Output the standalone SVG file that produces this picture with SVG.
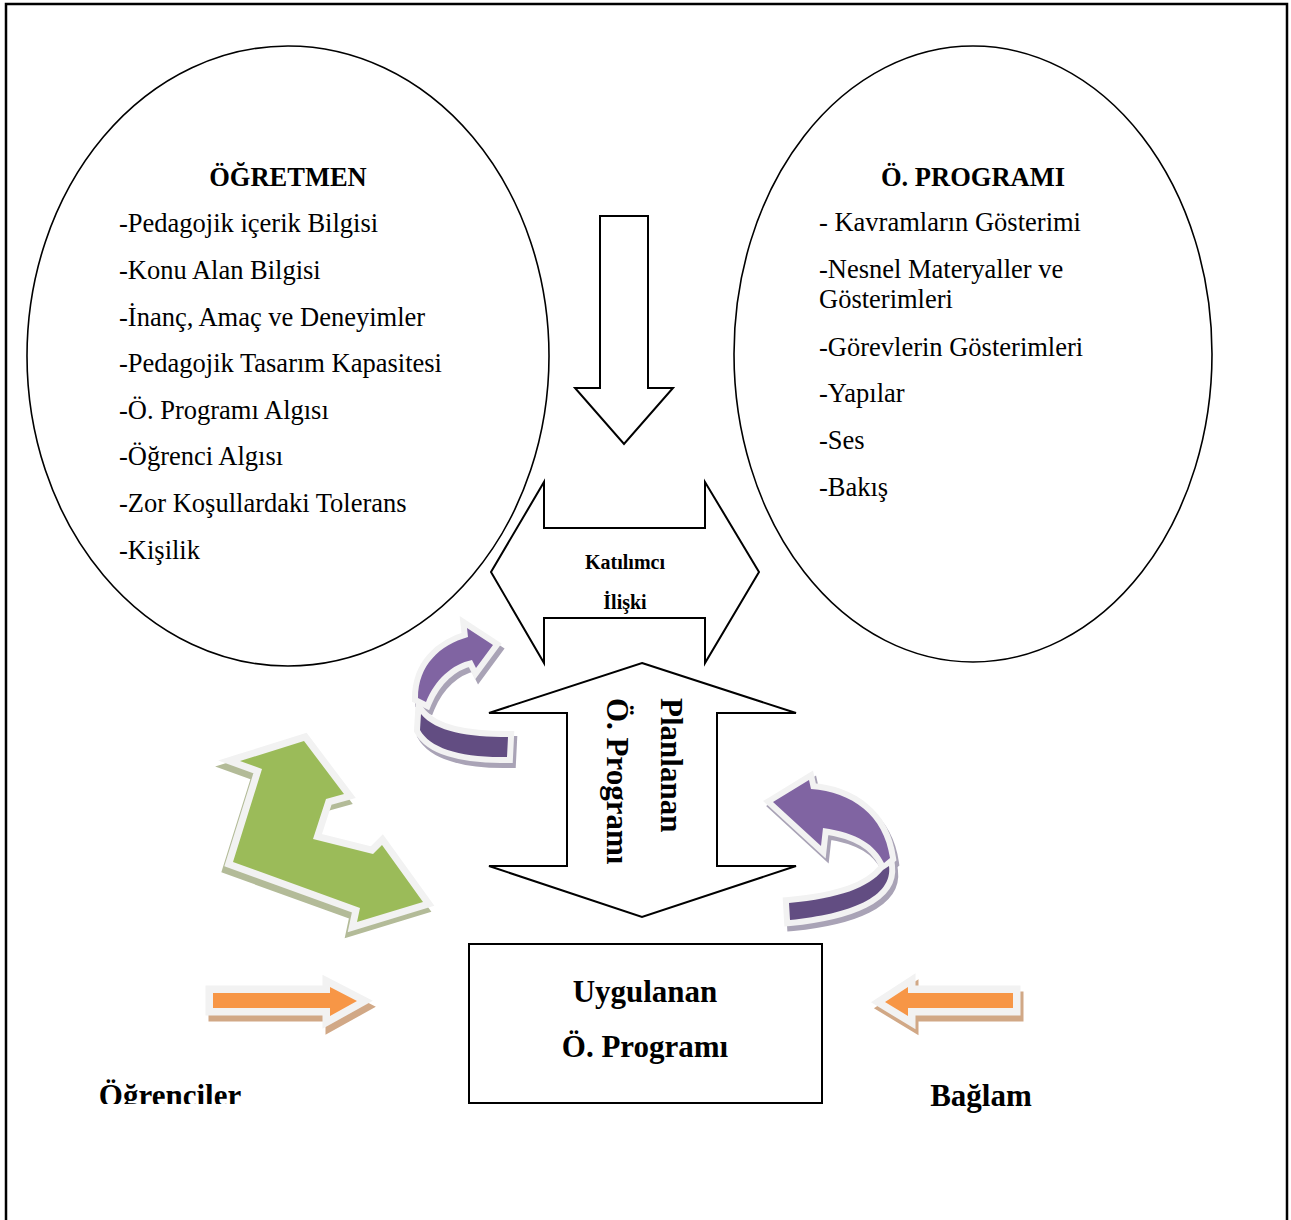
<svg xmlns="http://www.w3.org/2000/svg" xmlns:xlink="http://www.w3.org/1999/xlink" width="1291" height="1220" viewBox="0 0 1291 1220">
<style>
.t{font-family:"Liberation Serif","Times New Roman",serif;font-size:26.5px;fill:#000}
.b{font-weight:bold}
.big{font-family:"Liberation Serif","Times New Roman",serif;font-size:31px;font-weight:bold;fill:#000}
.mid{font-family:"Liberation Serif","Times New Roman",serif;font-size:20px;font-weight:bold;fill:#000}
.ln{fill:#fff;stroke:#000;stroke-width:2;stroke-linejoin:miter}
.el{fill:#fff;stroke:#000;stroke-width:1.6}
.wh{fill:#f2f2f2;stroke:#f2f2f2;stroke-width:14;stroke-linejoin:miter;stroke-miterlimit:10}
</style>
<defs>
<polygon id="greenShape" points="240,761 304,741 344,794 326,799 313,839 373,854 382,845 423,902 357,922 360,908 233,862 262,769"/>
<polygon id="orR" points="213,993 330,993 330,987 357,1001 330,1016 330,1008 213,1008"/>
<polygon id="orL" points="885,1002 908,987 908,993 1013,993 1013,1008 908,1008 908,1016"/>
<path id="ulTop" d="M418,698 C418,665 440,645 468,637 L467,628 L493,645 L476,668 L472,660 C452,664 435,680 426,702 Z"/>
<path id="ulBot" d="M421,714 C436,732 468,737 508,737 L507,757 C460,758 430,748 420,730 Z"/>
<path id="rTop" d="M773,802 L809,780 L811,789 C852,792 884,815 890,858 L884,863 C875,845 858,833 823,828 L821,846 Z"/>
<path id="rBot" d="M889,866 C893,897 850,914 790,920 L789,903 C840,898 868,888 883,870 Z"/>
<clipPath id="clipOgr"><rect x="0" y="1000" width="400" height="104"/></clipPath>
</defs>
<rect x="0" y="0" width="1291" height="1220" fill="#fff"/>
<g id="frame"><path d="M6,1222 L6,4 L1287,4 L1287,1222" fill="none" stroke="#000" stroke-width="2.5"/></g>

<g id="ogretmen">
<ellipse class="el" cx="288" cy="356" rx="261" ry="310"/>
<text class="t b" x="288" y="186" text-anchor="middle">ÖĞRETMEN</text>
<text class="t" x="119" y="232">-Pedagojik içerik Bilgisi</text>
<text class="t" x="119" y="279">-Konu Alan Bilgisi</text>
<text class="t" x="119" y="326">-İnanç, Amaç ve Deneyimler</text>
<text class="t" x="119" y="372">-Pedagojik Tasarım Kapasitesi</text>
<text class="t" x="119" y="419">-Ö. Programı Algısı</text>
<text class="t" x="119" y="465">-Öğrenci Algısı</text>
<text class="t" x="119" y="512">-Zor Koşullardaki Tolerans</text>
<text class="t" x="119" y="559">-Kişilik</text>
</g>

<g id="oprogrami">
<ellipse class="el" cx="973" cy="354" rx="239" ry="308"/>
<text class="t b" x="973" y="186" text-anchor="middle">Ö. PROGRAMI</text>
<text class="t" x="819" y="231">- Kavramların Gösterimi</text>
<text class="t" x="819" y="278">-Nesnel Materyaller ve</text>
<text class="t" x="819" y="308">Gösterimleri</text>
<text class="t" x="819" y="356">-Görevlerin Gösterimleri</text>
<text class="t" x="819" y="402">-Yapılar</text>
<text class="t" x="819" y="449">-Ses</text>
<text class="t" x="819" y="496">-Bakış</text>
</g>

<g id="connectors">
<polygon id="downArrow" class="ln" points="600,216 648,216 648,388 673,388 624,444 575,388 600,388"/>
<g id="katilimci">
<polygon class="ln" points="491,572 544,482 544,528 705,528 705,482 759,572 705,663 705,618 544,618 544,663"/>
<text class="mid" x="625" y="569" text-anchor="middle">Katılımcı</text>
<text class="mid" x="625" y="609" text-anchor="middle">İlişki</text>
</g>
<g id="planlanan">
<polygon class="ln" points="642,663 796,713 717,713 717,866 796,866 642,917 489,866 567,866 567,713 489,713"/>
<text class="big" transform="translate(661,698) rotate(90)">Planlanan</text>
<text class="big" transform="translate(607,698) rotate(90)">Ö. Programı</text>
</g>

<g id="greenArrow">
<use xlink:href="#greenShape" class="wh" transform="translate(-3,6)" style="fill:#b3bb98;stroke:#b3bb98"/>
<use xlink:href="#greenShape" class="wh"/>
<use xlink:href="#greenShape" fill="#9bbb59"/>
</g>

<g id="purpleLeft">
<use xlink:href="#ulTop" class="wh" transform="translate(3,5)" style="fill:#a9a3b6;stroke:#a9a3b6;stroke-width:12"/>
<use xlink:href="#ulBot" class="wh" transform="translate(3,5)" style="fill:#a9a3b6;stroke:#a9a3b6;stroke-width:12"/>
<use xlink:href="#ulTop" class="wh" style="stroke-width:12"/>
<use xlink:href="#ulBot" class="wh" style="stroke-width:12"/>
<use xlink:href="#ulTop" fill="#8064a2"/>
<use xlink:href="#ulBot" fill="#624d82"/>
</g>

<g id="purpleRight">
<use xlink:href="#rTop" class="wh" transform="translate(3,5)" style="fill:#a9a3b6;stroke:#a9a3b6;stroke-width:12"/>
<use xlink:href="#rBot" class="wh" transform="translate(3,5)" style="fill:#a9a3b6;stroke:#a9a3b6;stroke-width:12"/>
<use xlink:href="#rTop" class="wh" style="stroke-width:12"/>
<use xlink:href="#rBot" class="wh" style="stroke-width:12"/>
<use xlink:href="#rTop" fill="#8064a2"/>
<use xlink:href="#rBot" fill="#624d82"/>
</g>

<g id="orangeRight">
<use xlink:href="#orR" class="wh" transform="translate(3,6)" style="fill:#d1a886;stroke:#d1a886;stroke-width:15"/>
<use xlink:href="#orR" class="wh" style="stroke-width:15"/>
<use xlink:href="#orR" fill="#f79646"/>
</g>
<g id="orangeLeft">
<use xlink:href="#orL" class="wh" transform="translate(3,6)" style="fill:#d1a886;stroke:#d1a886;stroke-width:15"/>
<use xlink:href="#orL" class="wh" style="stroke-width:15"/>
<use xlink:href="#orL" fill="#f79646"/>
</g>
</g>

<g id="uygulanan">
<rect class="ln" x="469" y="944" width="353" height="159"/>
<text class="big" x="645" y="1002" text-anchor="middle">Uygulanan</text>
<text class="big" x="645" y="1057" text-anchor="middle">Ö. Programı</text>
</g>

<g id="ogrenciler">
<text class="big" x="170" y="1106" text-anchor="middle" clip-path="url(#clipOgr)">Öğrenciler</text>
</g>
<g id="baglam">
<text class="big" x="981" y="1106" text-anchor="middle">Bağlam</text>
</g>
</svg>
